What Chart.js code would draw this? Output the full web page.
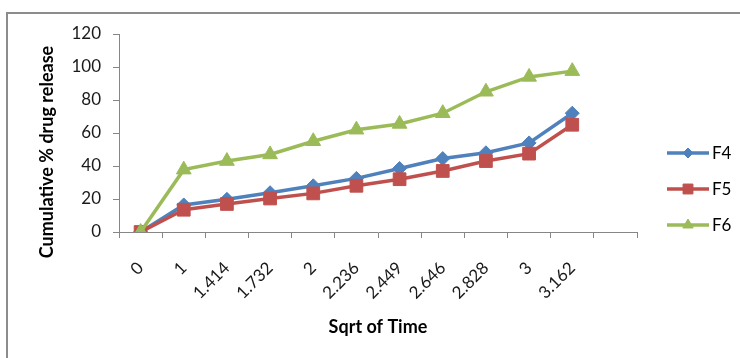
<!DOCTYPE html>
<html><head><meta charset="utf-8">
<script src="https://cdn.jsdelivr.net/npm/chart.js@4.4.1/dist/chart.umd.min.js"></script>
<style>
html,body{margin:0;padding:0;background:#fff;overflow:hidden}
#wrap{position:relative;width:740px;height:358px}
#frame{position:absolute;left:6px;top:12px;width:800px;height:400px;border:2px solid #8c8c8c;pointer-events:none;box-sizing:border-box}
canvas{display:block}
</style></head><body>
<div id="wrap"><canvas id="c" width="740" height="358"></canvas><div id="frame"></div></div>
<script>
const categories = ['0','1','1.414','1.732','2','2.236','2.449','2.646','2.828','3','3.162',''];
const seriesNames = ['F4','F5','F6'];
const f4 = [0,16.4,19.8,23.8,28,32.5,38.5,44.5,48,54,72];
const f5 = [0,13.5,17,20.3,23.4,28,32,37,43,47.5,65];
const f6 = [0,37.8,43,47,55,62,65.5,72,85,94,97.5];
const yTicks = [0,20,40,60,80,100,120];
const xTitle = 'Sqrt of Time';
const yTitle = 'Cumulative % drug release';

const colors = ['#4F81BD','#C0504D','#9BBB59'];
const styles = ['rectRot','rect','triangle'];
const radii = [7,9,8.5];
const legendRadii = [5,7,6];

const legendPlugin = {
  id:'xlLegend',
  afterDraw(chart){
    const ctx = chart.ctx;
    const ys = [153,189,225];
    chart.data.datasets.forEach((ds,i)=>{
      const y = ys[i];
      ctx.save();
      ctx.strokeStyle = ds.borderColor; ctx.lineWidth = 3.5;
      ctx.beginPath(); ctx.moveTo(667,y); ctx.lineTo(709,y); ctx.stroke();
      ctx.fillStyle = ds.backgroundColor; ctx.strokeStyle = ds.borderColor; ctx.lineWidth = 1;
      Chart.helpers.drawPoint(ctx,{pointStyle:ds.pointStyle,radius:legendRadii[i],borderWidth:1,rotation:0},688,y);
      ctx.fillStyle = '#000'; ctx.font = '17px Lato'; ctx.textBaseline = 'middle'; ctx.textAlign='left';
      ctx.fillText(ds.label,712,y+1);
      ctx.restore();
    });
  }
};
const yTitlePlugin = {
  id:'yTitle',
  afterDraw(chart){
    const ctx = chart.ctx;
    ctx.save();
    ctx.translate(47,152);
    ctx.rotate(-Math.PI/2);
    ctx.font = 'bold 18px Lato';
    ctx.fillStyle = '#000';
    ctx.textAlign = 'center'; ctx.textBaseline = 'middle';
    ctx.fillText(yTitle,0,0);
    ctx.restore();
  }
};

const datasets = [f4,f5,f6].map((d,i)=>({
  label: seriesNames[i],
  data: d,
  borderColor: colors[i],
  backgroundColor: colors[i],
  pointBackgroundColor: colors[i],
  pointBorderColor: colors[i],
  pointStyle: styles[i],
  pointRadius: radii[i],
  pointBorderWidth: 1,
  borderWidth: 3.5,
  tension: 0,
  order: 2-i
}));

new Chart(document.getElementById('c'),{
  type:'line',
  data:{labels:categories,datasets},
  plugins:[legendPlugin,yTitlePlugin],
  options:{
    responsive:false,
    animation:false,
    events:[],
    layout:{padding:{left:0,right:103,top:34,bottom:0}},
    plugins:{legend:{display:false},tooltip:{enabled:false}},
    scales:{
      x:{
        offset:true,
        grid:{offset:true,drawOnChartArea:false,drawTicks:true,tickLength:6,color:'#868686'},
        border:{color:'#868686',width:1},
        ticks:{autoSkip:false,maxRotation:45,minRotation:45,padding:20,color:'#1a1a1a',font:{family:'Lato',size:17}},
        title:{display:true,text:xTitle,color:'#000',font:{family:'Lato',size:18,weight:'bold'},padding:{top:0,bottom:20}},
        afterFit(s){ s.height = 126; }
      },
      y:{
        min:0,max:120,
        afterBuildTicks(s){ s.ticks = yTicks.map(v=>({value:v})); },
        grid:{drawOnChartArea:false,drawTicks:true,tickLength:6,color:'#868686'},
        border:{color:'#868686',width:1},
        ticks:{padding:12,color:'#1a1a1a',font:{family:'Lato',size:17}},
        afterFit(s){ s.width = 119; }
      }
    }
  }
});
</script>
</body></html>
